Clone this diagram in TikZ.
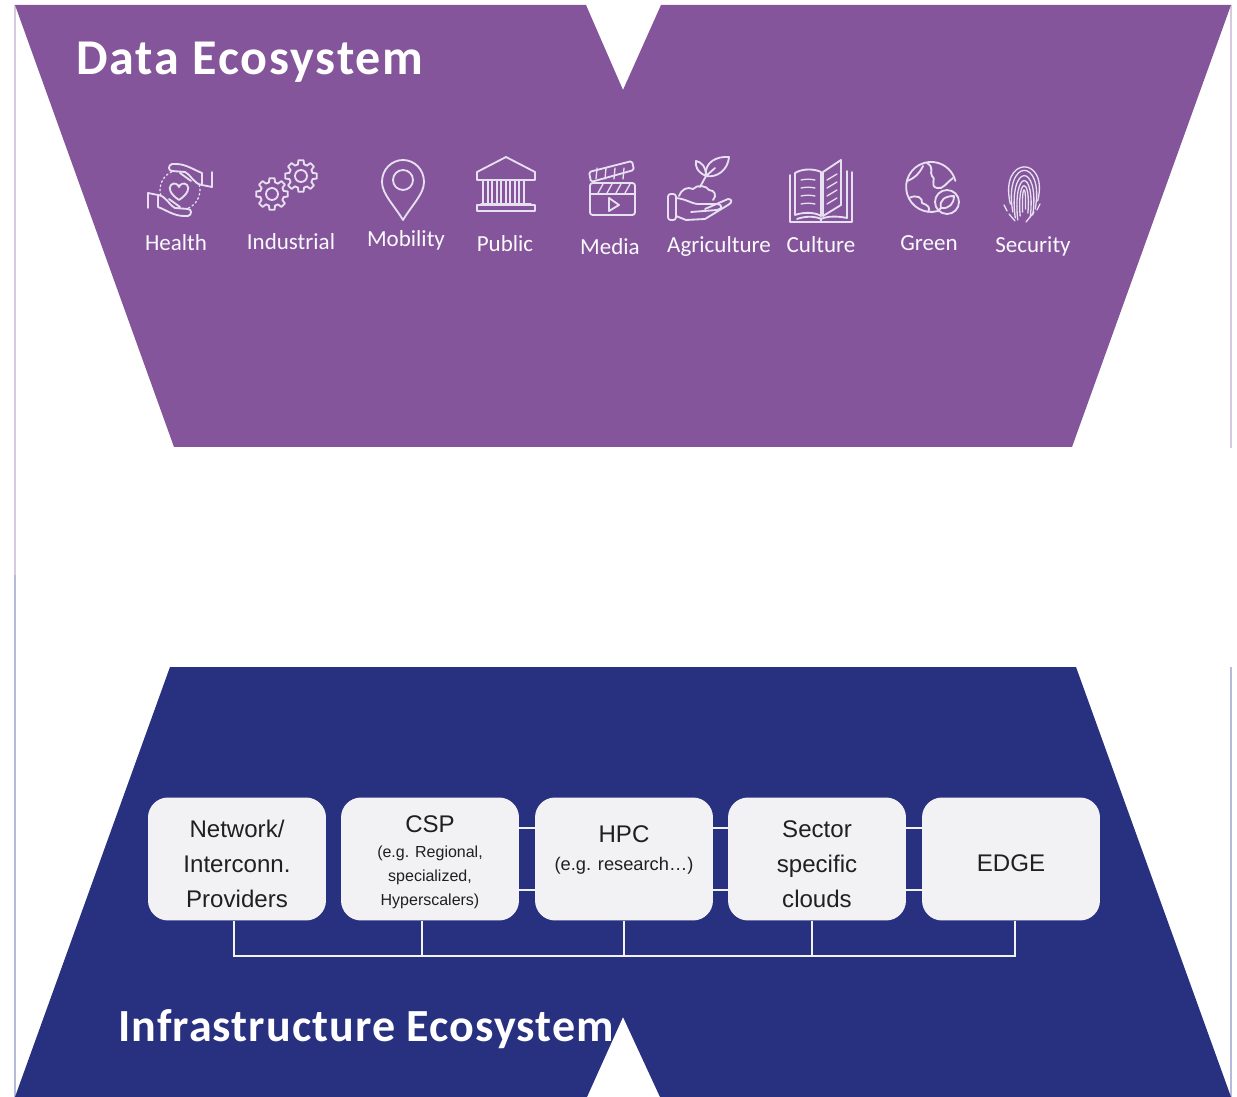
\documentclass[tikz,border=0pt]{standalone}
\usepackage{fontspec}
\setmainfont{Liberation Sans}
\newfontfamily\carlito{Carlito}
\newfontfamily\carlitodata[LetterSpace=3.7]{Carlito}
\newfontfamily\carlitoinfra[LetterSpace=2.3]{Carlito}
\usetikzlibrary{calc}
\definecolor{dataviolet}{HTML}{85559B}
\definecolor{infranavy}{HTML}{283080}
\definecolor{boxgrey}{HTML}{F2F2F5}
\definecolor{iconline}{HTML}{E6E0F0}
\definecolor{boxtext}{HTML}{202020}
\definecolor{edgeviolet}{HTML}{D8C8E0}
\definecolor{edgenavy}{HTML}{B8BADB}
\tikzset{
  datatitle/.style={anchor=base west,inner sep=0pt,text=white,font=\carlitodata\bfseries\fontsize{28.5}{32}\selectfont},
  infratitle/.style={anchor=base west,inner sep=0pt,text=white,font=\carlitoinfra\bfseries\fontsize{26.2}{30}\selectfont},
  sectorlabel/.style={anchor=base,inner sep=0pt,text=white!80!iconline,font=\carlito\fontsize{13.1}{15}\selectfont},
  icon/.style={draw=iconline,line width=1.05pt,line join=round,line cap=round},
  thinicon/.style={draw=iconline,line width=0.75pt,line join=round,line cap=round},
  providerbox/.style={fill=boxgrey,rounded corners=0.4cm,minimum width=3.56cm,minimum height=2.46cm,inner sep=0pt},
  boxlabel/.style={inner sep=0pt,align=center,text=boxtext,font=\fontsize{13.7}{20}\selectfont},
  smalllabel/.style={inner sep=0pt,align=center,text=boxtext,font=\fontsize{9.1}{13.7}\selectfont},
  link/.style={draw=boxgrey,line width=1.1pt},
}
\newcommand{\gearicon}[2]{
  \foreach \a in {0,45,...,315}
    \draw[icon] ($(#1,#2)+(\a-15:12)$) -- ($(#1,#2)+(\a-9:16)$) -- ($(#1,#2)+(\a+9:16)$) -- ($(#1,#2)+(\a+15:12)$) -- ($(#1,#2)+(\a+30:12)$);
  \draw[icon] (#1,#2) circle (6);
}
\begin{document}
\begin{tikzpicture}[x=0.02cm,y=-0.02cm]
\useasboundingbox (0,0) rectangle (1237,1097);
\fill[white] (0,0) rectangle (1237,1097);
\draw[line width=0.6pt,color=edgeviolet] (15,5) -- (15,575);
\draw[line width=0.6pt,color=edgenavy] (15,575) -- (15,1097);
\draw[line width=0.6pt,color=edgeviolet] (1231,5) -- (1231,448);
\draw[line width=0.6pt,color=edgenavy] (1231,667) -- (1231,1097);
\fill[dataviolet] (15,5) -- (586,5) -- (623,90) -- (661,5) -- (1231,5) -- (1072,447) -- (174,447) -- cycle;
\fill[infranavy] (170,667) -- (1076,667) -- (1231,1097) -- (660,1097) -- (623,1017) -- (587,1097) -- (15,1097) -- cycle;
\node[datatitle] (datahead) at (76,75) {Data Ecosystem};
\node[infratitle] (infrahead) at (118,1041) {Infrastructure Ecosystem};
\foreach \name/\x/\y in {Health/176/251,Industrial/291/250,Mobility/406/247,Public/505/252,Media/610/255,Agriculture/719/253,Culture/821/253,Green/929/251,Security/1033/253}
  \node[sectorlabel] (\name) at (\x,\y) {\name};
\draw[thinicon,dash pattern=on 0.9pt off 1.6pt] (180,190) ++(165:20) arc[start angle=165,end angle=250,radius=20];
\draw[thinicon,dash pattern=on 0.9pt off 1.6pt] (180,190) ++(-15:20) arc[start angle=-15,end angle=70,radius=20];
\draw[icon] (179,200) .. controls (170,194) and (168,188) .. (171,185) .. controls (174,182) and (178,184) .. (179,187) .. controls (180,184) and (184,182) .. (187,185) .. controls (190,188) and (188,194) .. (179,200) -- cycle;
\foreach \rot in {0,180}
  \draw[icon,rotate around={\rot:(180,190)}] (212,172) -- (212,187) -- (202,185) -- (202,173) .. controls (194,170) and (186,164) .. (176,164) -- (172,164) .. controls (168,165) and (168,171) .. (172,171) -- (185,172) .. controls (192,176) and (194,184) .. (202,185) (180,173) -- (191,181);
\gearicon{272}{194}
\gearicon{301}{176}
\draw[icon] (403,220) .. controls (394,205) and (382,194) .. (382,182) .. controls (382,169) and (392,160) .. (403,160) .. controls (414,160) and (424,169) .. (424,182) .. controls (424,194) and (412,205) .. (403,220) -- cycle;
\draw[icon] (403,180) circle (10);
\draw[icon] (477,172) -- (506,157) -- (535,172) -- (535,180) -- (477,180) -- cycle;
\draw[icon] (477,205) rectangle (535,211);
\foreach \x in {483,492,501,510,519}
  \draw[thinicon] (\x,181) -- (\x,204) (\x+5,181) -- (\x+5,204);
\draw[thinicon] (481,204) -- (531,204);
\draw[icon,rounded corners=1.5pt] (590,183) rectangle (635,215);
\draw[icon] (590,194) -- (635,194);
\foreach \x in {598,607,616,625}
  \draw[thinicon] (\x,193) -- (\x+5,184);
\draw[icon,rounded corners=1pt] (589,172) -- (632,161) -- (634,170) -- (591,182) -- cycle;
\foreach \x in {596,605,614,623}
  \draw[thinicon] (\x,179) -- (\x+1,168);
\draw[icon] (609,198) -- (619,205) -- (609,211) -- cycle;
\draw[icon,rounded corners=1.5pt] (668,194) rectangle (676,220);
\draw[icon] (676,198) .. controls (687,199) and (693,205) .. (701,204) -- (716,204) .. controls (723,204) and (723,209) .. (717,210) -- (691,212);
\draw[icon] (705,209) -- (728,199) .. controls (733,199) and (732,203) .. (728,205) -- (705,219) -- (686,220) -- (676,216);
\draw[icon] (679,196) .. controls (681,190) and (687,186) .. (693,189) .. controls (697,184) and (707,186) .. (709,190) .. controls (715,190) and (717,196) .. (713,200);
\draw[icon] (700,187) -- (706,176) -- (715,168);
\draw[icon] (706,176) .. controls (697,172) and (695,166) .. (696,161) .. controls (701,162) and (706,166) .. (706,176);
\draw[icon] (706,176) .. controls (717,178) and (728,170) .. (729,157) .. controls (717,156) and (704,162) .. (706,176);
\draw[icon] (790,175) -- (790,222) -- (852,222) -- (852,172);
\draw[icon] (821,222) -- (821,218);
\draw[icon] (795,215) -- (795,173) .. controls (803,168) and (815,169) .. (821,172) -- (821,216) .. controls (815,212) and (803,212) .. (795,215);
\draw[icon] (823,172) -- (841,160) -- (841,205) -- (823,216) -- cycle;
\draw[icon] (797,219) .. controls (805,216) and (815,216) .. (821,219) .. controls (827,216) and (838,216) .. (847,218) -- (847,171);
\foreach \y in {180,188,196,204}
  \draw[thinicon] (801,\y) .. controls (806,\y-1) and (810,\y-1) .. (815,\y);
\foreach \y in {180,188,196,204}
  \draw[thinicon] (827,\y) -- (837,\y-6);
\draw[icon] (938,211) arc[start angle=74,end angle=346,radius=25];
\draw[icon] (947,202) circle (12);
\draw[icon] (941,208) .. controls (939,200) and (945,196) .. (954,196) .. controls (954,204) and (949,209) .. (941,208) -- (938,211);
\draw[icon] (927,163) .. controls (935,168) and (929,172) .. (932,176) .. controls (937,178) and (929,186) .. (937,188) .. controls (943,190) and (947,182) .. (953,178);
\draw[icon] (907,181) .. controls (915,178) and (919,174) .. (923,166);
\draw[icon] (909,198) .. controls (917,194) and (923,198) .. (922,203) .. controls (928,205) and (931,208) .. (928,212);
\foreach \r/\c/\b in {2/183/212,5.5/176/216,9/168/220,12.5/162/218,16/157/212,19.5/155/204}
  \draw[thinicon] (1024-0.7*\r,\b) .. controls (1024-1.3*\r,\c) and (1024+1.3*\r,\c) .. (1024+0.7*\r,\b-3);
\draw[thinicon] (1015,221) -- (1009,214) (1034,212) -- (1026,222) (1004,205) -- (1007,211) (1040,204) -- (1037,210);
\coordinate (busnetwork) at (234,956);
\coordinate (buscsp) at (422,956);
\coordinate (bushpc) at (624,956);
\coordinate (bussector) at (812,956);
\coordinate (busedge) at (1015,956);
\node[providerbox] (network) at (237,859) {};
\node[providerbox] (csp) at (430,859) {};
\node[providerbox] (hpc) at (624,859) {};
\node[providerbox] (sector) at (817,859) {};
\node[providerbox] (edge) at (1011,859) {};
\foreach \a/\b in {csp/hpc,hpc/sector,sector/edge}
  \foreach \y in {828,890}
    \draw[link] (\a.east |- 0,\y) -- (\b.west |- 0,\y);
\draw[link] (busnetwork |- network.south) -- (busnetwork) -- (busedge) -- (busedge |- edge.south);
\foreach \n in {csp,hpc,sector}
  \draw[link] (bus\n |- \n.south) -- (bus\n);
\node[boxlabel] (networktext) at (237,864) {Network/\\Interconn.\\Providers};
\node[boxlabel] (csptitle) at (430,824) {CSP};
\node[smalllabel] (cspnote) at (430,877) {(e.g. Regional,\\specialized,\\Hyperscalers)};
\node[boxlabel] (hpctitle) at (624,834) {HPC};
\node[smalllabel,font=\fontsize{10.4}{13.7}\selectfont] (hpcnote) at (624,866) {(e.g. research\dots)};
\node[boxlabel] (sectortext) at (817,864) {Sector\\specific\\clouds};
\node[boxlabel] (edgetext) at (1011,863) {EDGE};
\end{tikzpicture}
\end{document}
